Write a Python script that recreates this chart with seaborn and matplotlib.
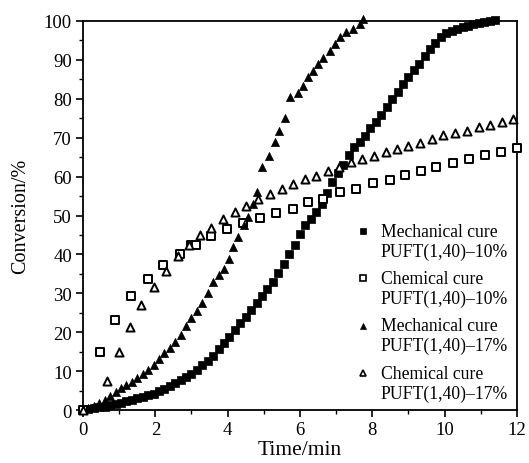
import numpy as np
import pandas as pd
import matplotlib
matplotlib.use("Agg")
import matplotlib.pyplot as plt
import seaborn as sns
from matplotlib.lines import Line2D
from matplotlib.ticker import MultipleLocator

# ---- data ----
mech10_t = [0.0, 0.15, 0.3, 0.45, 0.6, 0.75, 0.9, 1.05, 1.2, 1.35, 1.5, 1.65, 1.8, 1.95,
            2.1, 2.25, 2.4, 2.55, 2.7, 2.85, 3.0, 3.15, 3.3, 3.45, 3.6, 3.75, 3.9, 4.05,
            4.2, 4.35, 4.5, 4.65, 4.8, 4.95, 5.1, 5.25, 5.4, 5.55, 5.7, 5.85, 6.0, 6.15,
            6.3, 6.45, 6.6, 6.75, 6.9, 7.05, 7.2, 7.35, 7.5, 7.65, 7.8, 7.95, 8.1, 8.25,
            8.4, 8.55, 8.7, 8.85, 9.0, 9.15, 9.3, 9.45, 9.6, 9.75, 9.9, 10.05, 10.2,
            10.35, 10.5, 10.65, 10.8, 10.95, 11.1, 11.25, 11.4]
mech10_c = [0.0, 0.3, 0.5, 0.7, 0.9, 1.2, 1.5, 1.8, 2.2, 2.6, 3.0, 3.4, 3.8, 4.2,
            4.8, 5.4, 6.1, 6.9, 7.6, 8.4, 9.2, 10.3, 11.5, 12.6, 14.0, 15.8, 17.3, 18.8,
            20.5, 22.3, 24.0, 25.8, 27.6, 29.3, 31.0, 32.9, 35.2, 37.6, 40.0, 42.4, 45.2, 47.6,
            49.2, 50.8, 53.0, 55.8, 58.6, 61.0, 63.0, 65.5, 67.5, 69.0, 70.5, 72.5, 74.0, 75.8,
            77.8, 80.0, 81.8, 83.8, 85.6, 87.3, 89.0, 91.0, 92.8, 94.3, 96.0, 96.8, 97.3,
            97.9, 98.4, 98.8, 99.2, 99.6, 99.8, 100.0, 100.2]

chem10_t = [0.0, 0.47, 0.88, 1.34, 1.8, 2.22, 2.68, 3.0, 3.12, 3.55, 3.97, 4.43, 4.89,
            5.35, 5.8, 6.22, 6.63, 7.1, 7.56, 8.01, 8.48, 8.9, 9.36, 9.77, 10.23, 10.67,
            11.12, 11.57, 12.0]
chem10_c = [0.0, 15.0, 23.2, 29.3, 33.6, 37.2, 40.0, 42.3, 42.3, 44.7, 46.5, 48.0, 49.4,
            50.7, 51.8, 53.4, 54.2, 56.0, 56.8, 58.4, 59.2, 60.4, 61.5, 62.4, 63.4, 64.5,
            65.6, 66.4, 67.4]

mech17_t = [0.0, 0.15, 0.3, 0.45, 0.6, 0.75, 0.9, 1.05, 1.2, 1.35, 1.5, 1.65, 1.8, 1.95,
            2.1, 2.25, 2.4, 2.55, 2.7, 2.85, 3.0, 3.15, 3.3, 3.45, 3.6, 3.75, 3.9, 4.05,
            4.15, 4.3, 4.45, 4.55, 4.7, 4.8, 4.95, 5.15, 5.3, 5.42, 5.58, 5.72, 5.94, 6.08,
            6.22, 6.35, 6.5, 6.63, 6.82, 6.96, 7.1, 7.28, 7.46, 7.65, 7.74]
mech17_c = [0.0, 0.5, 1.0, 1.8, 2.6, 3.5, 4.6, 5.6, 6.5, 7.3, 8.2, 9.2, 10.3, 11.6,
            13.0, 14.6, 16.0, 17.4, 19.2, 21.5, 23.6, 25.5, 27.6, 30.0, 33.0, 34.8, 36.2, 38.8,
            41.9, 44.5, 47.5, 49.5, 53.0, 56.0, 62.4, 65.4, 68.9, 71.8, 75.0, 80.4, 81.4, 83.3,
            85.6, 87.2, 88.9, 90.6, 92.4, 94.1, 95.9, 97.2, 97.9, 99.2, 100.5]

chem17_t = [0.0, 0.65, 1.0, 1.3, 1.6, 1.96, 2.29, 2.63, 2.93, 3.23, 3.55, 3.88, 4.2, 4.52,
            4.84, 5.17, 5.49, 5.81, 6.13, 6.45, 6.78, 7.08, 7.4, 7.73, 8.05, 8.37, 8.68,
            9.0, 9.33, 9.65, 9.97, 10.3, 10.62, 10.94, 11.26, 11.58, 11.9]
chem17_c = [0.0, 7.5, 14.8, 21.3, 27.0, 31.5, 35.8, 39.5, 42.5, 45.0, 46.7, 49.2, 50.9, 52.4,
            54.2, 55.5, 56.8, 58.1, 59.4, 60.2, 61.5, 62.4, 63.8, 64.5, 65.4, 66.2, 67.1,
            67.9, 68.6, 69.7, 70.7, 71.2, 71.8, 72.7, 73.3, 74.0, 74.8]

labels = ["Mechanical cure\nPUFT(1,40)\u201310%",
          "Chemical cure\nPUFT(1,40)\u201310%",
          "Mechanical cure\nPUFT(1,40)\u201317%",
          "Chemical cure\nPUFT(1,40)\u201317%"]
x_ticks = [0, 2, 4, 6, 8, 10, 12]
y_ticks = [0, 10, 20, 30, 40, 50, 60, 70, 80, 90, 100]

# ---- style ----
sns.set_theme(style="ticks")
plt.rcParams['font.family'] = ['Liberation Serif', 'DejaVu Serif']
plt.rcParams['text.color'] = 'black'
plt.rcParams['axes.labelcolor'] = 'black'
plt.rcParams['xtick.color'] = 'black'
plt.rcParams['ytick.color'] = 'black'
plt.rcParams['axes.edgecolor'] = 'black'

fig = plt.figure(figsize=(5.29, 4.64), dpi=100)
ax = fig.add_axes([0.157, 0.1142, 0.820, 0.8384])

series = [
    (mech10_t, mech10_c, dict(marker="s", s=28, color="black", edgecolor="black", linewidth=0.5)),
    (chem10_t, chem10_c, dict(marker="s", s=40, color="white", edgecolor="black", linewidth=1.4)),
    (mech17_t, mech17_c, dict(marker="^", s=34, color="black", edgecolor="black", linewidth=0.5)),
    (chem17_t, chem17_c, dict(marker="^", s=34, color="white", edgecolor="black", linewidth=1.4)),
]
handles = []
for (t, c, kw), lab in zip(series, labels):
    df = pd.DataFrame({"t": t, "c": c})
    sns.scatterplot(data=df, x="t", y="c", ax=ax, zorder=3, clip_on=False, legend=False, **kw)
    handles.append(Line2D([], [], linestyle="none", marker=kw["marker"],
                          markersize=5.0, markerfacecolor=kw["color"],
                          markeredgecolor="black",
                          markeredgewidth=1.2 if kw["color"] == "white" else 0.5))

ax.set_xlim(0, 12)
ax.set_ylim(0, 100)
ax.set_xticks(x_ticks)
ax.set_yticks(y_ticks)
ax.xaxis.set_minor_locator(MultipleLocator(1))
ax.yaxis.set_minor_locator(MultipleLocator(5))
ax.tick_params(which="major", direction="out", length=5, width=1.2, labelsize=13.5,
               colors="black", pad=3)
ax.tick_params(which="minor", direction="out", length=3, width=1.0, colors="black")
for sp in ax.spines.values():
    sp.set_linewidth(1.3)
    sp.set_color("black")

ax.set_xlabel("Time/min", fontsize=15.5, labelpad=1, color="black")
ax.set_ylabel("Conversion/%", fontsize=14.5, labelpad=10, color="black")

leg = ax.legend(handles, labels, loc="lower right", bbox_to_anchor=(1.008, -0.01),
                frameon=False, fontsize=12.7, handlelength=0.8, handletextpad=0.6,
                labelspacing=0.58, borderaxespad=0.3, labelcolor="black")
# align each legend marker with the first line of its two-line label
for h in leg.legend_handles:
    h.set_ydata(np.asarray(h.get_ydata(), dtype=float) + 7.6)

fig.savefig("out.png", dpi=100)
